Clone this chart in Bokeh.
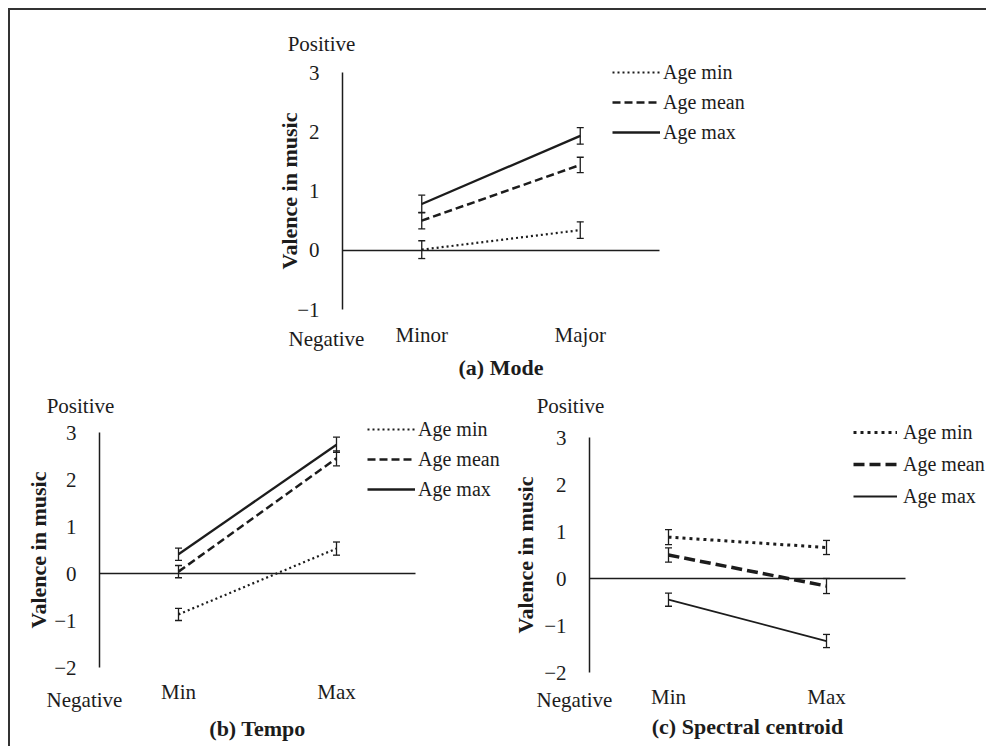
from bokeh.plotting import figure
from bokeh.models import (Range1d, FixedTicker, Label, Whisker, TeeHead,
                          ColumnDataSource, Legend, LegendItem, LinearAxis)
from bokeh.layouts import column, row
from bokeh.embed import file_html
from bokeh.resources import INLINE

FONT = "Liberation Serif"
INK = "#1c1c1c"

series_names = ["Age min", "Age mean", "Age max"]

# (a) Mode
mode_cats = ["Minor", "Major"]
mode_min = [0.01, 0.34]
mode_min_err = [0.15, 0.14]
mode_mean = [0.50, 1.44]
mode_mean_err = [0.14, 0.13]
mode_max = [0.78, 1.93]
mode_max_err = [0.15, 0.14]

# (b) Tempo
tempo_cats = ["Min", "Max"]
tempo_min = [-0.87, 0.53]
tempo_min_err = [0.13, 0.14]
tempo_mean = [0.04, 2.45]
tempo_mean_err = [0.13, 0.16]
tempo_max = [0.41, 2.74]
tempo_max_err = [0.13, 0.16]

# (c) Spectral centroid
spec_cats = ["Min", "Max"]
spec_min = [0.88, 0.66]
spec_min_err = [0.16, 0.15]
spec_mean = [0.50, -0.16]
spec_mean_err = [0.15, 0.16]
spec_max = [-0.45, -1.33]
spec_max_err = [0.14, 0.14]

y_ticks_a = [-1, 0, 1, 2, 3]
y_ticks_bc = [-2, -1, 0, 1, 2, 3]

ITEM_H = 23


def panel(cats, series, errs, yticks, title, g, dashes, widths, leg):
    # g: pixel geometry of this panel on the page
    cx0, cy0, w, h = g["canvas"]
    fl, fr, ft, fb = g["frame"]
    y_lo, y_hi = yticks[0], yticks[-1]
    n = len(cats)
    ux = (fr - fl) / n
    uy = (fb - ft) / (y_hi - y_lo)
    x_rng = Range1d((cx0 - fl) / ux, (cx0 + w - fl) / ux)
    y_rng = Range1d(y_hi - (cy0 + h - ft) / uy, y_hi - (cy0 - ft) / uy)

    def dx(px):
        return (px - fl) / ux

    def dy(py):
        return y_hi - (py - ft) / uy

    p = figure(width=w, height=h, x_range=x_rng, y_range=y_rng, output_backend="svg",
               toolbar_location=None, x_axis_location=None, y_axis_location=None,
               min_border=0)
    p.xgrid.visible = False
    p.ygrid.visible = False
    p.outline_line_color = None

    xs = [i + 0.5 for i in range(n)]

    renderers = []
    for vals, err, dash, lw in zip(series, errs, dashes, widths):
        r = p.line(xs, vals, line_color=INK, line_width=lw, line_dash=dash)
        src = ColumnDataSource(dict(x=xs,
                                    upper=[v + e for v, e in zip(vals, err)],
                                    lower=[v - e for v, e in zip(vals, err)]))
        p.add_layout(Whisker(source=src, base="x", upper="upper", lower="lower",
                             line_color=INK, line_width=1.3,
                             upper_head=TeeHead(size=7, line_color=INK, line_width=1.3),
                             lower_head=TeeHead(size=7, line_color=INK, line_width=1.3)))
        renderers.append(r)

    # vertical value axis
    ya = LinearAxis(fixed_location=0, bounds=(y_lo, y_hi),
                    ticker=FixedTicker(ticks=yticks),
                    major_label_overrides={t: ("\u2212" + str(abs(t)) if t < 0 else str(t)) for t in yticks},
                    axis_line_color=INK, axis_line_width=1.5,
                    major_tick_line_color=None, minor_tick_line_color=None,
                    major_label_standoff=17, major_label_text_font=FONT,
                    major_label_text_font_size="21px", major_label_text_color=INK,
                    axis_label="Valence in music", axis_label_text_font=FONT,
                    axis_label_text_font_style="bold", axis_label_text_font_size="22px",
                    axis_label_text_color=INK, axis_label_standoff=g["ylab_so"])
    p.add_layout(ya, "left")

    # zero reference axis
    za = LinearAxis(fixed_location=0, bounds=(0, n), ticker=FixedTicker(ticks=[]),
                    axis_line_color=INK, axis_line_width=1.3,
                    major_tick_line_color=None, minor_tick_line_color=None,
                    major_label_text_alpha=0)
    p.add_layout(za, "below")

    # category axis
    xa = LinearAxis(fixed_location=y_lo, bounds=(0, n), ticker=FixedTicker(ticks=xs),
                    major_label_overrides={x: c for x, c in zip(xs, cats)},
                    axis_line_color=None, major_tick_line_color=None, minor_tick_line_color=None,
                    major_label_standoff=g["cat_so"], major_label_text_font=FONT,
                    major_label_text_font_size="21px", major_label_text_color=INK,
                    axis_label=title, axis_label_text_font=FONT,
                    axis_label_text_font_style="bold", axis_label_text_font_size="22px",
                    axis_label_text_color=INK, axis_label_standoff=g["title_so"])
    p.add_layout(xa, "below")

    gx, gy, gw, pitch, so = leg
    legend = Legend(items=[LegendItem(label=s, renderers=[r]) for s, r in zip(series_names, renderers)],
                    location=(gx - cx0, cy0 + h - (gy + 2 * pitch + ITEM_H / 2)),
                    orientation="vertical",
                    glyph_width=gw, glyph_height=20, label_height=20,
                    spacing=pitch - ITEM_H, padding=0, margin=0, label_standoff=so,
                    border_line_alpha=0, background_fill_alpha=0,
                    label_text_font=FONT, label_text_font_size="20px",
                    label_text_color=INK)
    p.add_layout(legend)

    for (lx, ly), txt in ((g["pos"], "Positive"), (g["neg"], "Negative")):
        p.add_layout(Label(x=dx(lx), y=dy(ly), text=txt, text_align="center",
                           text_baseline="middle", text_font=FONT,
                           text_font_size="21px", text_color=INK))
    return p


OX, OY = 10, 10

geo_a = dict(canvas=(OX, OY, 976, 379), frame=(342, 659, 72, 309),
             pos=(321, 43), neg=(326, 338), cat_so=7, title_so=5, ylab_so=-8)
geo_b = dict(canvas=(OX, OY + 379, 502, 357), frame=(99, 415, 432, 667),
             pos=(80, 405), neg=(84, 699), cat_so=6, title_so=9, ylab_so=0)
geo_c = dict(canvas=(OX + 502, OY + 379, 474, 357), frame=(589, 905, 437, 672),
             pos=(570, 405), neg=(574, 699), cat_so=6, title_so=2, ylab_so=3)

fig_a = panel(mode_cats, [mode_min, mode_mean, mode_max],
              [mode_min_err, mode_mean_err, mode_max_err], y_ticks_a, "(a) Mode",
              geo_a, ["2 3", "8 4", "solid"], [2.2, 2.5, 2.3],
              (612, 72, 48, 30, 3))

fig_b = panel(tempo_cats, [tempo_min, tempo_mean, tempo_max],
              [tempo_min_err, tempo_mean_err, tempo_max_err], y_ticks_bc, "(b) Tempo",
              geo_b, ["2 3", "8 4", "solid"], [2.2, 2.5, 2.3],
              (367, 429, 48, 30, 3))

fig_c = panel(spec_cats, [spec_min, spec_mean, spec_max],
              [spec_min_err, spec_mean_err, spec_max_err], y_ticks_bc, "(c) Spectral centroid",
              geo_c, ["3 4", "11 5", "solid"], [3, 3.5, 1.8],
              (853, 432, 44, 32, 6))

layout = column(fig_a, row(fig_b, fig_c),
                styles={"margin-left": "8px", "margin-top": "8px",
                        "border-top": "2px solid #333333", "border-left": "2px solid #333333"})

open("out.html", "w").write(file_html(layout, INLINE, title="Valence in music"))
